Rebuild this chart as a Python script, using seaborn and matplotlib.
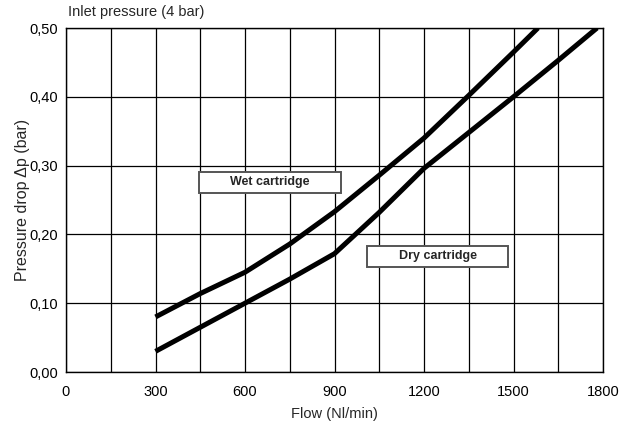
import matplotlib
matplotlib.use("Agg")
import matplotlib.pyplot as plt
import seaborn as sns
import pandas as pd
from matplotlib.ticker import MultipleLocator, FuncFormatter
from matplotlib.patches import Rectangle

# Data
wet_flow = [300, 450, 600, 750, 900, 1050, 1200, 1350, 1500, 1582]
wet_dp = [0.080, 0.114, 0.145, 0.186, 0.233, 0.286, 0.340, 0.402, 0.465, 0.500]
dry_flow = [300, 450, 600, 750, 900, 1050, 1200, 1350, 1500, 1650, 1780]
dry_dp = [0.030, 0.065, 0.100, 0.135, 0.172, 0.232, 0.296, 0.348, 0.400, 0.453, 0.500]
series_names = ["Wet cartridge", "Dry cartridge"]
x_ticks = [0, 300, 600, 900, 1200, 1500, 1800]
y_ticks = [0.0, 0.1, 0.2, 0.3, 0.4, 0.5]

df = pd.concat([
    pd.DataFrame({"flow": wet_flow, "dp": wet_dp, "series": series_names[0]}),
    pd.DataFrame({"flow": dry_flow, "dp": dry_dp, "series": series_names[1]}),
])

sns.set_style("white")
plt.rcParams['font.family'] = ['Liberation Sans', 'DejaVu Sans']

fig = plt.figure(figsize=(6.29, 4.33), dpi=100)
ax = fig.add_axes([66/629, 61/433, 537/629, 344/433])

sns.lineplot(data=df, x="flow", y="dp", units="series", estimator=None,
             color="black", lw=3.6, ax=ax, sort=False, legend=False)
for l in ax.lines:
    l.set_solid_capstyle("butt")
    l.set_solid_joinstyle("round")

ax.set_xlim(0, 1800)
ax.set_ylim(0, 0.5)
ax.set_xticks(x_ticks)
ax.xaxis.set_minor_locator(MultipleLocator(150))
ax.set_yticks(y_ticks)
ax.yaxis.set_major_formatter(FuncFormatter(lambda v, p: f"{v:.2f}".replace(".", ",")))

ax.grid(True, which="both", axis="x", color="black", lw=0.9)
ax.grid(True, which="major", axis="y", color="black", lw=0.9)
ax.set_axisbelow(True)
for s in ax.spines.values():
    s.set_color("black")
    s.set_linewidth(1.0)
    s.set_visible(True)

ax.tick_params(axis="both", which="both", direction="out", length=4, width=1,
               color="black", labelsize=10.5, labelcolor="black")
ax.tick_params(axis="x", pad=5)
ax.tick_params(axis="y", pad=2)

ax.set_xlabel("Flow (Nl/min)", fontsize=10.5, labelpad=6)
ax.set_ylabel("Pressure drop Δp (bar)", fontsize=11.5)
ax.yaxis.set_label_coords(-36/537, 0.5)
fig.text(68/629, 1 - 12/433, "Inlet pressure (4 bar)", fontsize=10.5, va="center", ha="left")

# label boxes (fixed size, like the reference)
for (x0, x1, y0, y1), name in [((446, 922, 0.260, 0.291), series_names[0]),
                               ((1009, 1482, 0.153, 0.183), series_names[1])]:
    ax.add_patch(Rectangle((x0, y0), x1 - x0, y1 - y0, fc="white", ec="#555555",
                           lw=1.4, zorder=5))
    ax.text((x0 + x1) / 2, (y0 + y1) / 2, name, fontsize=9, fontweight="bold",
            ha="center", va="center", zorder=6)

fig.savefig("out.png", dpi=100)
